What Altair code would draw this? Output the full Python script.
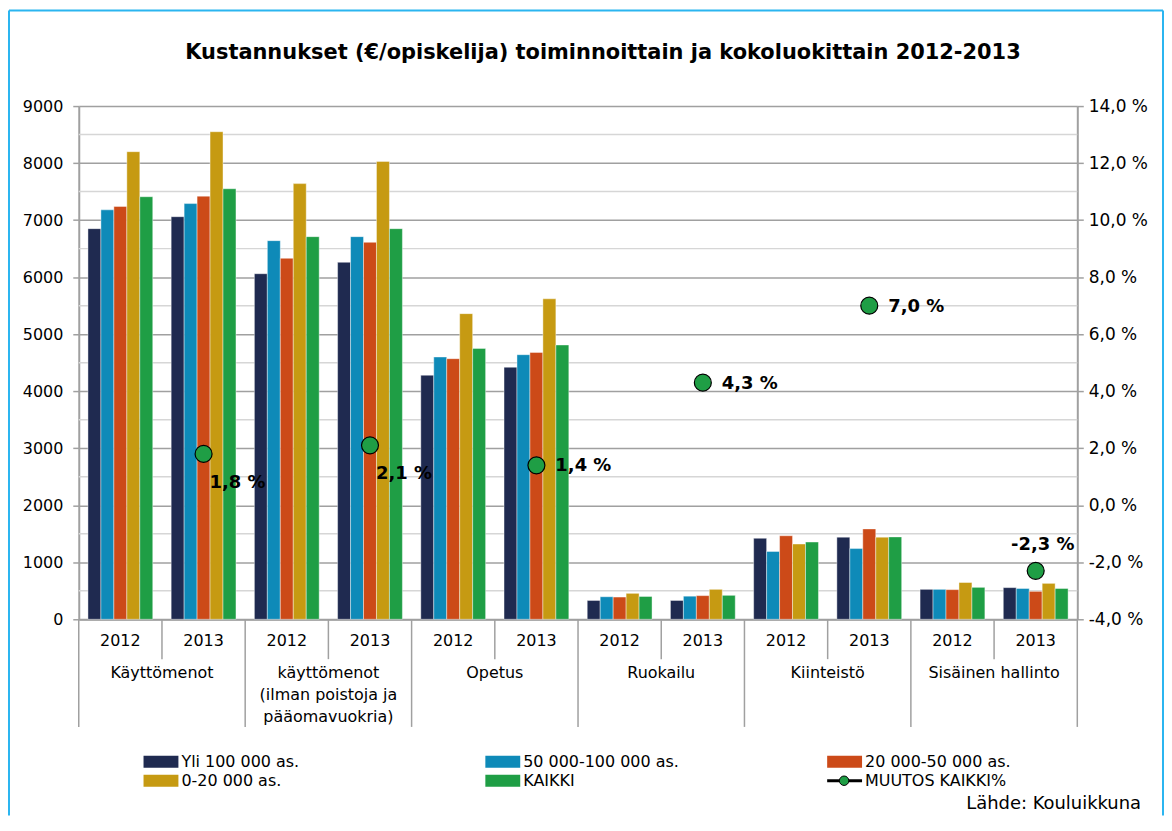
import altair as alt
import pandas as pd

# ---------------- data ----------------
CATEGORIES = ["Käyttömenot", "käyttömenot\n(ilman poistoja ja\npääomavuokria)",
              "Opetus", "Ruokailu", "Kiinteistö", "Sisäinen hallinto"]
YEARS = ["2012", "2013"]
SERIES = ["Yli 100 000 as.", "50 000-100 000 as.", "20 000-50 000 as.", "0-20 000 as.", "KAIKKI"]
COLORS = ["#1f2a50", "#0e8ab8", "#cc4a18", "#c69a12", "#1f9e45"]

# values per series, order: category x year (2012, 2013)
YLI_100000 = [6850, 7060, 6060, 6260, 4280, 4420, 330, 330, 1420, 1440, 525, 555]
V50_100 = [7180, 7290, 6640, 6710, 4600, 4640, 395, 405, 1190, 1240, 525, 540]
V20_50 = [7240, 7420, 6330, 6610, 4570, 4680, 390, 415, 1465, 1585, 520, 490]
V0_20 = [8200, 8550, 7640, 8030, 5360, 5620, 455, 525, 1320, 1440, 645, 630]
KAIKKI = [7410, 7550, 6710, 6850, 4750, 4810, 400, 420, 1355, 1445, 560, 540]
SERIES_VALUES = [YLI_100000, V50_100, V20_50, V0_20, KAIKKI]

MUUTOS_NAME = "MUUTOS KAIKKI%"
MUUTOS = [1.8, 2.1, 1.4, 4.3, 7.0, -2.3]
MUUTOS_LABEL_POS = ["below-right", "below-right", "right", "right", "right", "above"]

LEFT_TICKS = [0, 1000, 2000, 3000, 4000, 5000, 6000, 7000, 8000, 9000]
MINOR_GRID = [500, 1500, 2500, 3500, 4500, 5500, 6500, 7500, 8500]
RIGHT_TICKS = [-4, -2, 0, 2, 4, 6, 8, 10, 12, 14]

TITLE = "Kustannukset (€/opiskelija) toiminnoittain ja kokoluokittain 2012-2013"
SOURCE = "Lähde: Kouluikkuna"

# ---------------- tables ----------------
W, H = 1002, 515
FONT = "DejaVu Sans"
GRID_DARK = "#a0a0a0"
GRID_LIGHT = "#d6d6d6"

GROUP_ORDER = [f"{i}|{y}" for i in range(len(CATEGORIES)) for y in YEARS]

rows = []
for s, vals in zip(SERIES, SERIES_VALUES):
    for g, v in zip(GROUP_ORDER, vals):
        rows.append({"grp": g, "series": s, "value": v})
bars_df = pd.DataFrame(rows)

groups_df = pd.DataFrame({
    "grp": GROUP_ORDER,
    "year": [g.split("|")[1] for g in GROUP_ORDER],
    "cat": [CATEGORIES[int(g.split("|")[0])] for g in GROUP_ORDER],
})

pts_df = pd.DataFrame({
    "grp": [f"{i}|2013" for i in range(len(CATEGORIES))],
    "muutos": MUUTOS,
    "pos": MUUTOS_LABEL_POS,
    "label": [f"{v:.1f}".replace(".", ",") + " %" for v in MUUTOS],
})
minor_df = pd.DataFrame({"value": MINOR_GRID})
one = pd.DataFrame({"a": [0]})

X_SCALE = alt.Scale(domain=GROUP_ORDER, paddingInner=0, paddingOuter=0)
X_AXIS = alt.Axis(labels=False, ticks=False, title=None, grid=False,
                  domainColor=GRID_DARK, domainWidth=2)


def xenc(band=None):
    if band is None:
        return alt.X("grp:N", sort=GROUP_ORDER, scale=X_SCALE, axis=X_AXIS)
    return alt.X("grp:N", sort=GROUP_ORDER, scale=X_SCALE, axis=X_AXIS, bandPosition=band)


# ---------------- left (bars) ----------------
LY_SCALE = alt.Scale(domain=[0, 9000])
LEFT_AXIS = alt.Axis(values=LEFT_TICKS, title=None, grid=True, gridColor=GRID_DARK,
                     gridWidth=1.5, domainColor=GRID_DARK, domainWidth=2,
                     tickColor=GRID_DARK, tickSize=6, tickWidth=1.5,
                     labelPadding=10, labelFontSize=16, labelColor="black",
                     labelFont=FONT, format="d")

minor = alt.Chart(minor_df).mark_rule(color=GRID_LIGHT, strokeWidth=1.5).encode(
    y=alt.Y("value:Q", scale=LY_SCALE, axis=LEFT_AXIS)
)

bars = alt.Chart(bars_df).mark_bar(stroke="white", strokeWidth=0.6, strokeOpacity=0.7).encode(
    x=xenc(),
    xOffset=alt.XOffset("series:N", sort=SERIES,
                        scale=alt.Scale(domain=SERIES, paddingInner=0, paddingOuter=0.71)),
    y=alt.Y("value:Q", scale=LY_SCALE, axis=LEFT_AXIS),
    color=alt.Color("series:N", scale=alt.Scale(domain=SERIES, range=COLORS), legend=None),
)
left = alt.layer(minor, bars)

# ---------------- right (percent change points) ----------------
RY = alt.Scale(domain=[-4, 14])
RIGHT_AXIS = alt.Axis(orient="right", values=RIGHT_TICKS, title=None, grid=False,
                      labelExpr="replace(replace(format(datum.value, '.1f'), '.', ','), '\u2212', '-') + ' %'",
                      domainColor=GRID_DARK, domainWidth=2, tickColor=GRID_DARK,
                      tickSize=6, tickWidth=1.5, labelPadding=5, labelFontSize=17,
                      labelColor="black", labelFont=FONT)
pts = alt.Chart(pts_df).mark_point(shape="circle", filled=True, size=290, fill="#1f9e45",
                                   stroke="black", strokeWidth=1.2, opacity=1).encode(
    x=xenc(),
    y=alt.Y("muutos:Q", scale=RY, axis=RIGHT_AXIS),
)

LABEL_STYLE = {
    "below-right": dict(align="left", dx=6, dy=29),
    "right": dict(align="left", dx=19, dy=1),
    "above": dict(align="center", dx=7, dy=-26),
}
label_layers = []
for pos, st in LABEL_STYLE.items():
    label_layers.append(
        alt.Chart(pts_df).transform_filter(alt.datum.pos == pos).mark_text(
            baseline="middle", fontSize=18, fontWeight="bold", font=FONT, color="black", **st
        ).encode(x=xenc(), y=alt.Y("muutos:Q", scale=RY, axis=RIGHT_AXIS), text="label:N")
    )
right = alt.layer(pts, *label_layers)

# ---------------- category axis (two levels) ----------------
first_df = groups_df[groups_df["year"] == YEARS[0]]
second_df = groups_df[groups_df["year"] == YEARS[1]]
last_df = groups_df.tail(1)

sep_long = alt.Chart(first_df).mark_rule(color=GRID_DARK, strokeWidth=1.5).encode(
    x=xenc(0), y=alt.value(H), y2=alt.value(H + 108))
sep_end = alt.Chart(last_df).mark_rule(color=GRID_DARK, strokeWidth=1.5).encode(
    x=xenc(1), y=alt.value(H), y2=alt.value(H + 108))
sep_short = alt.Chart(second_df).mark_rule(color=GRID_DARK, strokeWidth=1.5).encode(
    x=xenc(0), y=alt.value(H), y2=alt.value(H + 40))

year_txt = alt.Chart(groups_df).mark_text(fontSize=16, font=FONT, color="black",
                                          baseline="middle").encode(
    x=xenc(), y=alt.value(H + 22), text="year:N")
cat_txt = alt.Chart(second_df).mark_text(fontSize=16, font=FONT, color="black",
                                         baseline="top", lineBreak="\n", lineHeight=22).encode(
    x=xenc(0), y=alt.value(H + 46), text="cat:N")

# ---------------- legend (drawn) ----------------
LEG_X0, LEG_DX = 65, 343
LEG_Y0, LEG_DY = 658, 19
legend_layers = []
entries = list(zip(SERIES, COLORS)) + [(MUUTOS_NAME, None)]
for i, (name, col) in enumerate(entries):
    lx = LEG_X0 + (i % 3) * LEG_DX
    ly = LEG_Y0 + (i // 3) * LEG_DY
    if col is not None:
        legend_layers.append(alt.Chart(one).mark_rect(color=col).encode(
            x=alt.value(lx), x2=alt.value(lx + 35), y=alt.value(ly - 6), y2=alt.value(ly + 6)))
    else:
        legend_layers.append(alt.Chart(one).mark_rule(color="black", strokeWidth=3).encode(
            x=alt.value(lx), x2=alt.value(lx + 35), y=alt.value(ly)))
        legend_layers.append(alt.Chart(one).mark_point(shape="circle", filled=True, size=90,
                                                       fill="#1f9e45", stroke="black",
                                                       strokeWidth=1, opacity=1).encode(
            x=alt.value(lx + 17), y=alt.value(ly)))
    legend_layers.append(alt.Chart(one).mark_text(align="left", baseline="middle", fontSize=16,
                                                  font=FONT, color="black").encode(
        x=alt.value(lx + 38), y=alt.value(ly), text=alt.value(name)))

source_txt = alt.Chart(one).mark_text(align="right", baseline="middle", fontSize=18,
                                      font=FONT, color="black").encode(
    x=alt.value(1066), y=alt.value(700), text=alt.value(SOURCE))

title_txt = alt.Chart(one).mark_text(align="center", baseline="middle", fontSize=21,
                                     fontWeight="bold", font=FONT, color="black").encode(
    x=alt.value(526), y=alt.value(-53), text=alt.value(TITLE))

# outer frame (top, left, right edges)
FRAME_C = "#2bb5f0"
frame_top = alt.Chart(one).mark_rule(color=FRAME_C, strokeWidth=2).encode(
    x=alt.value(-70), x2=alt.value(1088), y=alt.value(-96))
frame_left = alt.Chart(one).mark_rule(color=FRAME_C, strokeWidth=2).encode(
    x=alt.value(-70), y=alt.value(-96), y2=alt.value(712))
frame_right = alt.Chart(one).mark_rule(color=FRAME_C, strokeWidth=2).encode(
    x=alt.value(1088), y=alt.value(-96), y2=alt.value(712))

chart = alt.layer(
    frame_top, frame_left, frame_right, left, sep_long, sep_end, sep_short, year_txt, cat_txt,
    *legend_layers, source_txt, title_txt, right
).resolve_scale(y="independent").properties(
    width=W, height=H, padding=0,
).configure(font=FONT).configure_view(stroke=None)

chart.save("out.html", embed_options={"renderer": "svg", "actions": False})
